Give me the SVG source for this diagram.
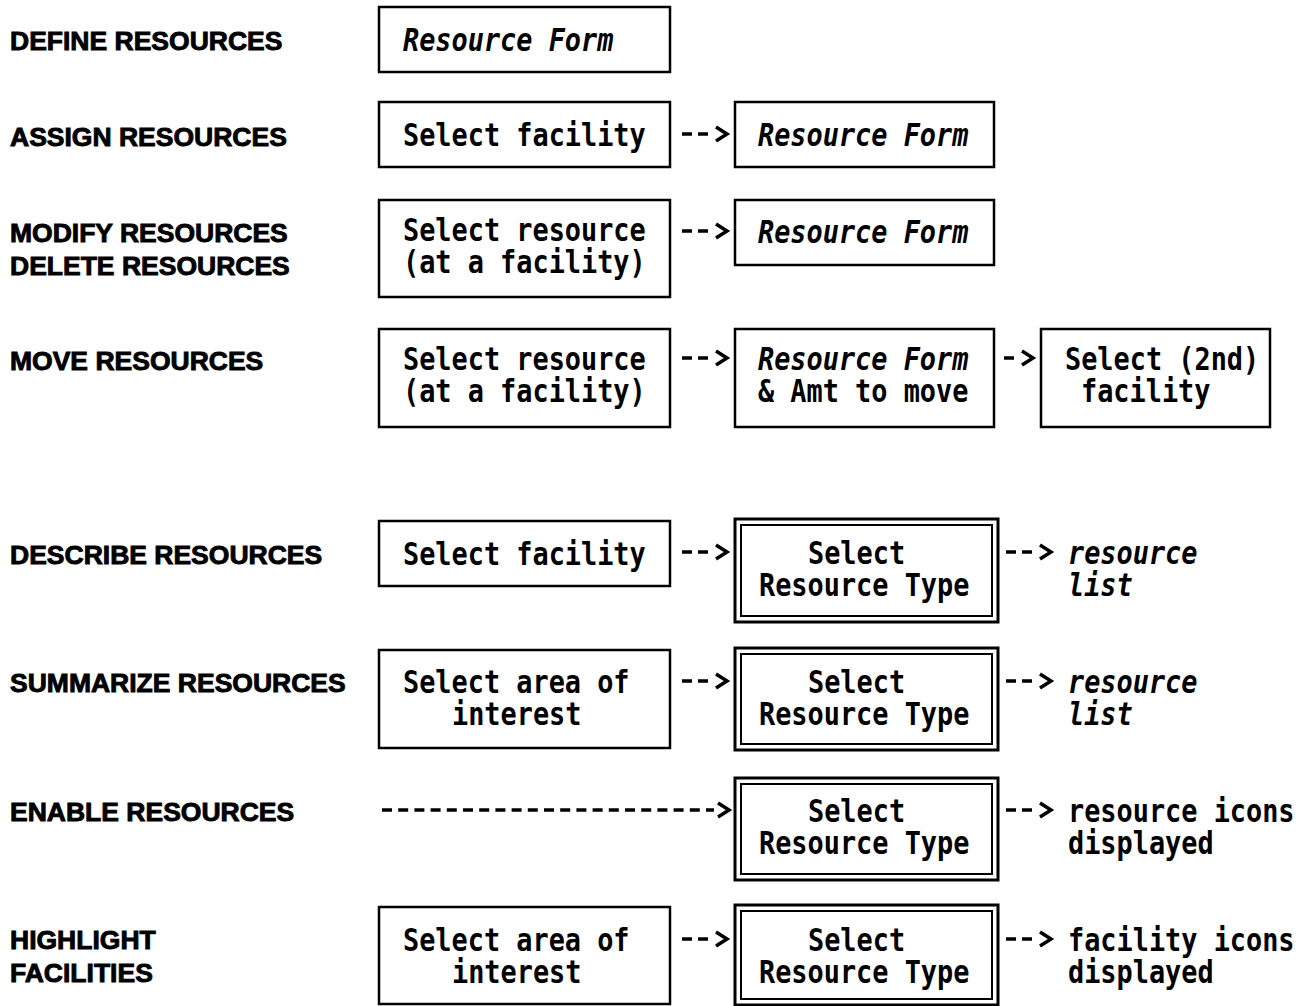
<svg xmlns="http://www.w3.org/2000/svg" xmlns:xlink="http://www.w3.org/1999/xlink" width="1305" height="1006" viewBox="0 0 1305 1006">
<style>
.lbl{font-family:"Liberation Sans",Arial,sans-serif;font-weight:bold;font-size:26.5px;fill:#000;stroke:#000;stroke-width:0.9}
.t{font-family:"DejaVu Sans Mono","Liberation Mono",monospace;font-weight:bold;font-size:32px;fill:#000}
.i{font-style:italic}
.box{fill:#fff;stroke:#000;stroke-width:2.5}
.dbo{fill:#fff;stroke:#000;stroke-width:3}
.dbi{fill:none;stroke:#000;stroke-width:2}
.conn{fill:none;stroke:#000;stroke-width:3.5}
</style>
<defs>
<path id="a2" d="M0,0 h10 M16,0 h10 M34,-7 l11,7 l-11,7"/>
<path id="a1" d="M0,0 h10 M18,-7 l11,7 l-11,7"/>
</defs>
<rect width="1305" height="1006" fill="#fff"/>

<g id="labels">
<text class="lbl" x="10" y="50">DEFINE RESOURCES</text>
<text class="lbl" x="10" y="146">ASSIGN RESOURCES</text>
<text class="lbl" x="10" y="242">MODIFY RESOURCES</text>
<text class="lbl" x="10" y="275">DELETE RESOURCES</text>
<text class="lbl" x="10" y="370">MOVE RESOURCES</text>
<text class="lbl" x="10" y="564">DESCRIBE RESOURCES</text>
<text class="lbl" x="10" y="692">SUMMARIZE RESOURCES</text>
<text class="lbl" x="10" y="821">ENABLE RESOURCES</text>
<text class="lbl" x="10" y="949">HIGHLIGHT</text>
<text class="lbl" x="10" y="982">FACILITIES</text>
</g>

<g id="connectors" class="conn">
<use xlink:href="#a2" href="#a2" x="682" y="134"/>
<use xlink:href="#a2" href="#a2" x="682" y="231"/>
<use xlink:href="#a2" href="#a2" x="682" y="358"/>
<use xlink:href="#a1" href="#a1" x="1004" y="358"/>
<use xlink:href="#a2" href="#a2" x="682" y="552"/>
<use xlink:href="#a2" href="#a2" x="1006" y="552"/>
<use xlink:href="#a2" href="#a2" x="682" y="681"/>
<use xlink:href="#a2" href="#a2" x="1006" y="681"/>
<path d="M382,810 H714" stroke-dasharray="10 6.2"/>
<path d="M718,803 l11,7 l-11,7"/>
<use xlink:href="#a2" href="#a2" x="1006" y="810"/>
<use xlink:href="#a2" href="#a2" x="682" y="939"/>
<use xlink:href="#a2" href="#a2" x="1006" y="939"/>
</g>

<g id="define-form">
<rect class="box" x="379" y="7" width="291" height="65"/>
<text class="t i" transform="translate(403,51) scale(0.84,1)">Resource Form</text>
</g>

<g id="assign-facility">
<rect class="box" x="379" y="102" width="291" height="65"/>
<text class="t" transform="translate(403,146) scale(0.84,1)">Select facility</text>
</g>
<g id="assign-form">
<rect class="box" x="735" y="102" width="259" height="65"/>
<text class="t i" transform="translate(758,146) scale(0.84,1)">Resource Form</text>
</g>

<g id="modify-resource">
<rect class="box" x="379" y="200" width="291" height="97"/>
<text class="t" transform="translate(403,241) scale(0.84,1)">Select resource</text>
<text class="t" transform="translate(403,273) scale(0.84,1)">(at a facility)</text>
</g>
<g id="modify-form">
<rect class="box" x="735" y="200" width="259" height="65"/>
<text class="t i" transform="translate(758,243) scale(0.84,1)">Resource Form</text>
</g>

<g id="move-resource">
<rect class="box" x="379" y="329" width="291" height="98"/>
<text class="t" transform="translate(403,370) scale(0.84,1)">Select resource</text>
<text class="t" transform="translate(403,402) scale(0.84,1)">(at a facility)</text>
</g>
<g id="move-form">
<rect class="box" x="735" y="329" width="259" height="98"/>
<text class="t i" transform="translate(758,370) scale(0.84,1)">Resource Form</text>
<text class="t" transform="translate(758,402) scale(0.84,1)">&amp; Amt to move</text>
</g>
<g id="move-facility">
<rect class="box" x="1041" y="329" width="229" height="98"/>
<text class="t" transform="translate(1065,370) scale(0.84,1)">Select (2nd)</text>
<text class="t" transform="translate(1081,402) scale(0.84,1)">facility</text>
</g>

<g id="describe-facility">
<rect class="box" x="379" y="521" width="291" height="65"/>
<text class="t" transform="translate(403,565) scale(0.84,1)">Select facility</text>
</g>
<g id="describe-type">
<rect class="dbo" x="735" y="519" width="263" height="103"/>
<rect class="dbi" x="741" y="525" width="251" height="91"/>
<text class="t" transform="translate(808,564) scale(0.84,1)">Select</text>
<text class="t" transform="translate(759,596) scale(0.84,1)">Resource Type</text>
</g>
<g id="describe-out">
<text class="t i" transform="translate(1068,564) scale(0.84,1)">resource</text>
<text class="t i" transform="translate(1068,596) scale(0.84,1)">list</text>
</g>

<g id="summarize-area">
<rect class="box" x="379" y="650" width="291" height="98"/>
<text class="t" transform="translate(403,693) scale(0.84,1)">Select area of</text>
<text class="t" transform="translate(452,725) scale(0.84,1)">interest</text>
</g>
<g id="summarize-type">
<rect class="dbo" x="735" y="648" width="263" height="102"/>
<rect class="dbi" x="741" y="654" width="251" height="90"/>
<text class="t" transform="translate(808,693) scale(0.84,1)">Select</text>
<text class="t" transform="translate(759,725) scale(0.84,1)">Resource Type</text>
</g>
<g id="summarize-out">
<text class="t i" transform="translate(1068,693) scale(0.84,1)">resource</text>
<text class="t i" transform="translate(1068,725) scale(0.84,1)">list</text>
</g>

<g id="enable-type">
<rect class="dbo" x="735" y="778" width="263" height="102"/>
<rect class="dbi" x="741" y="784" width="251" height="90"/>
<text class="t" transform="translate(808,822) scale(0.84,1)">Select</text>
<text class="t" transform="translate(759,854) scale(0.84,1)">Resource Type</text>
</g>
<g id="enable-out">
<text class="t" transform="translate(1068,822) scale(0.84,1)">resource icons</text>
<text class="t" transform="translate(1068,854) scale(0.84,1)">displayed</text>
</g>

<g id="highlight-area">
<rect class="box" x="379" y="907" width="291" height="97"/>
<text class="t" transform="translate(403,951) scale(0.84,1)">Select area of</text>
<text class="t" transform="translate(452,983) scale(0.84,1)">interest</text>
</g>
<g id="highlight-type">
<rect class="dbo" x="735" y="905" width="263" height="100"/>
<rect class="dbi" x="741" y="911" width="251" height="88"/>
<text class="t" transform="translate(808,951) scale(0.84,1)">Select</text>
<text class="t" transform="translate(759,983) scale(0.84,1)">Resource Type</text>
</g>
<g id="highlight-out">
<text class="t" transform="translate(1068,951) scale(0.84,1)">facility icons</text>
<text class="t" transform="translate(1068,983) scale(0.84,1)">displayed</text>
</g>
</svg>
